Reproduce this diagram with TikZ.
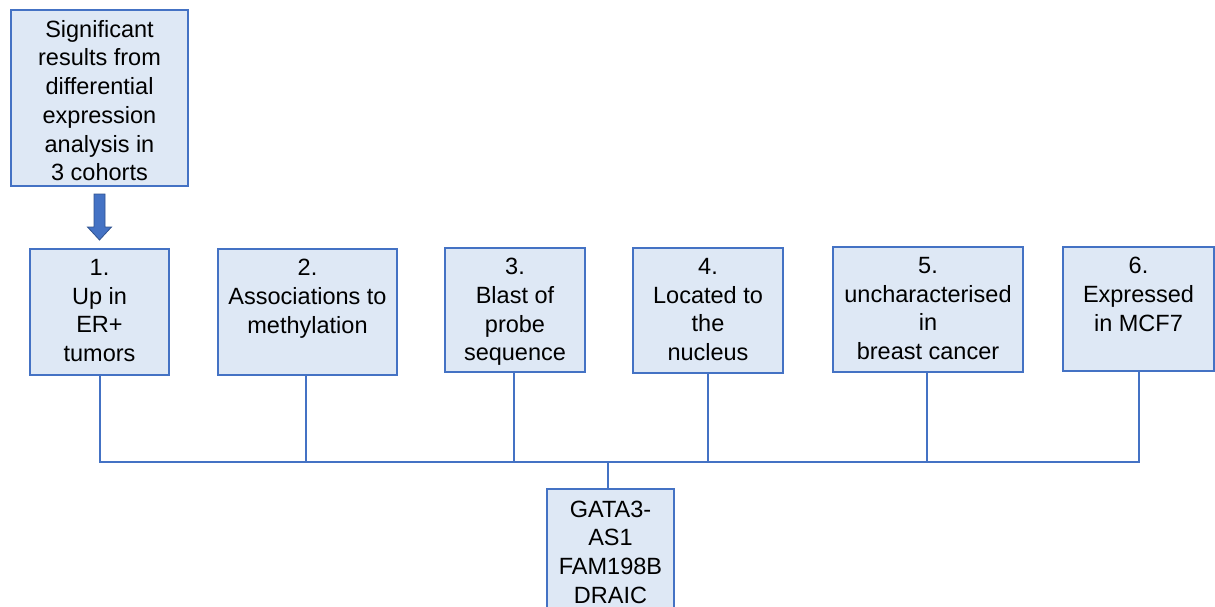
\documentclass[tikz,border=0pt]{standalone}
\usepackage{fontspec}
\setmainfont{Liberation Sans}
\usetikzlibrary{calc}
\definecolor{boxfill}{HTML}{DEE8F5}
\definecolor{boxline}{HTML}{4472C4}
\definecolor{arrowline}{HTML}{2F528F}
\begin{document}
\begin{tikzpicture}[x=1pt,y=-1pt,
  box/.style={draw=boxline, fill=boxfill, line width=1.2pt, inner sep=0pt, outer sep=0pt},
  txt/.style={font=\fontsize{23.5}{28.7}\selectfont, align=center, inner sep=0pt, anchor=north, text=black},
  conn/.style={draw=boxline, line width=2pt},
  blockarrow/.style={draw=arrowline, fill=boxline, line width=0.8pt, line join=miter}]
\useasboundingbox (0,0) rectangle (1215,606);
\begin{scope}
\clip (0,0) rectangle (1215,606);
% boxes
\node[box, minimum width=177pt, minimum height=176pt] (top) at (99.5,98) {};
\node[box, minimum width=139pt, minimum height=126pt] (b1) at (99.5,312) {};
\node[box, minimum width=179pt, minimum height=126pt] (b2) at (307.5,312) {};
\node[box, minimum width=140pt, minimum height=124pt] (b3) at (515,310) {};
\node[box, minimum width=150pt, minimum height=125pt] (b4) at (708,310.5) {};
\node[box, minimum width=190pt, minimum height=125pt] (b5) at (928,309.5) {};
\node[box, minimum width=151pt, minimum height=124pt] (b6) at (1138.5,309) {};
\node[box, minimum width=127pt, minimum height=151pt] (gene) at (610.5,564.5) {};
% texts
\node[txt] (ttop) at ([yshift=-10pt]top.north) {Significant\\results from\\differential\\expression\\analysis in\\3 cohorts};
\node[txt] (t1) at ([yshift=-10pt]b1.north) {1.\\Up in\\ER+\\tumors};
\node[txt] (t2) at ([yshift=-10pt]b2.north) {2.\\Associations to\\methylation};
\node[txt] (t3) at ([yshift=-10pt]b3.north) {3.\\Blast of\\probe\\sequence};
\node[txt] (t4) at ([yshift=-10pt]b4.north) {4.\\Located to\\the\\nucleus};
\node[txt] (t5) at ([yshift=-10pt]b5.north) {5.\\uncharacterised\\in\\breast cancer};
\node[txt] (t6) at ([yshift=-10pt]b6.north) {6.\\Expressed\\in MCF7};
\node[txt] (tgene) at ([yshift=-11.5pt]gene.north) {GATA3-\\AS1\\FAM198B\\DRAIC};
% block arrow
\coordinate (ar) at (top.south);
\draw[blockarrow] ($(ar)+(-5.5,8)$) -- ($(ar)+(5.5,8)$) -- ($(ar)+(5.5,41)$) -- ($(ar)+(12,41)$)
  -- ($(ar)+(0,54)$) -- ($(ar)+(-12,41)$) -- ($(ar)+(-5.5,41)$) -- cycle;
% connectors
\coordinate (bus) at (0,462);
\draw[conn] (b1.south) -- (b1.south |- bus) -- (b6.south |- bus) -- (b6.south);
\draw[conn] ([xshift=-1.5pt]b2.south) -- ([xshift=-1.5pt]b2.south |- bus);
\draw[conn] ([xshift=-1pt]b3.south) -- ([xshift=-1pt]b3.south |- bus);
\draw[conn] (b4.south) -- (b4.south |- bus);
\draw[conn] ([xshift=-1pt]b5.south) -- ([xshift=-1pt]b5.south |- bus);
\draw[conn] ([xshift=-2.5pt]gene.north) -- ([xshift=-2.5pt]gene.north |- bus);
\end{scope}
\end{tikzpicture}
\end{document}
